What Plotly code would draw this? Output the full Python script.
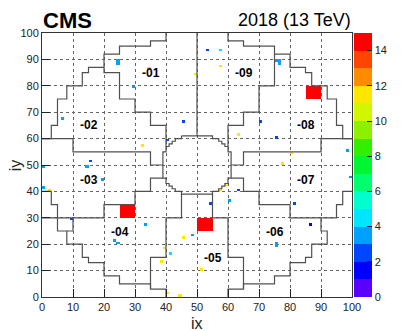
import numpy as np
import plotly.graph_objects as go

# hit cells (ix, iy) and their values
pts_ix = [25, 25, 76, 77, 77, 7, 30, 15, 1, 20, 1, 99, 100, 61, 76, 76, 34, 24, 25, 49,
          58, 42,
          58, 50, 35, 33, 3, 64, 81, 78, 60, 58, 46, 40, 39, 41, 45, 52,
          54, 41, 16, 46, 71, 76, 64, 55, 82, 10, 87]
pts_iy = [90, 89, 90, 90, 89, 68, 80, 50, 50, 45, 42, 56, 46, 37, 21, 20, 28, 22, 21, 24,
          94, 17,
          88, 85, 87, 58, 41, 62, 55, 51, 43, 41, 23, 19, 14, 2, 1, 11,
          94, 60, 52, 67, 67, 61, 41, 36, 36, 30, 28]
pts_val = [3.5] * 20 + [4.5] * 2 + [11.5] * 16 + [2.5] * 10 + [1.5]

# hot 5x5 towers: lower-left cell and value
tower_ix = [86, 26, 51]
tower_iy = [76, 31, 26]
tower_val = [14.5, 14.5, 14.5]

palette = ["#5a00ff", "#0000ff", "#0046ff", "#00a0ff", "#00e6ff",
           "#00ffcc", "#00ff6e", "#00f532", "#30f000", "#8cf000",
           "#d2f500", "#ffe600", "#ff8c00", "#ff4600", "#ff0000"]

# EE outlines (crystal-edge coordinates)
outer_ul = [(0, 60), (3, 60), (3, 65), (5, 65), (5, 75), (8, 75), (8, 80), (13, 80), (13, 85), (15, 85),
            (15, 87), (20, 87), (20, 92), (25, 92), (25, 95), (35, 95), (35, 97), (40, 97), (40, 100)]
outer_ur = [(100, 60), (97, 60), (97, 65), (95, 65), (95, 75), (92, 75), (92, 80), (87, 80), (87, 85), (85, 85),
            (85, 87), (80, 87), (80, 92), (75, 92), (75, 95), (65, 95), (65, 97), (60, 97), (60, 100)]
outer_ll = [(0, 40), (3, 40), (3, 35), (5, 35), (5, 25), (8, 25), (8, 20), (13, 20), (13, 15), (15, 15),
            (15, 13), (20, 13), (20, 8), (25, 8), (25, 5), (35, 5), (35, 3), (40, 3), (40, 0)]
outer_lr = [(100, 40), (97, 40), (97, 35), (95, 35), (95, 30), (90, 30), (90, 25), (92, 25), (92, 20), (87, 20),
            (87, 15), (85, 15), (85, 13), (80, 13), (80, 8), (75, 8), (75, 5), (65, 5), (65, 3), (60, 3), (60, 0)]
hole = [(45, 61), (55, 61), (55, 60), (57, 60), (57, 59), (58, 59), (58, 58), (59, 58), (59, 57), (60, 57),
        (60, 55), (61, 55), (61, 45), (60, 45), (60, 43), (59, 43), (59, 42), (58, 42), (58, 41), (57, 41),
        (57, 40), (55, 40), (55, 39), (45, 39), (45, 40), (43, 40), (43, 41), (42, 41), (42, 42), (41, 42),
        (41, 43), (40, 43), (40, 45), (39, 45), (39, 55), (40, 55), (40, 57), (41, 57), (41, 58), (42, 58),
        (42, 59), (43, 59), (43, 60), (45, 60), (45, 61)]
sectors = [
    [(50, 100), (50, 61)],
    [(20, 87), (20, 85), (25, 85), (25, 75), (30, 75), (30, 70), (35, 70), (35, 65), (40, 65), (40, 57)],
    [(0, 60), (10, 60), (10, 55), (35, 55), (35, 50), (39, 50)],
    [(0, 30), (20, 30), (20, 35), (30, 35), (30, 40), (35, 40), (35, 45), (39, 45)],
    [(10, 30), (10, 25), (8, 25)],
    [(45, 39), (45, 30), (40, 30), (40, 15), (35, 15), (35, 3)],
    [(55, 39), (55, 30), (60, 30), (60, 15), (65, 15), (65, 3)],
    [(61, 45), (65, 45), (65, 40), (70, 40), (70, 35), (80, 35), (80, 30), (90, 30)],
    [(61, 50), (65, 50), (65, 55), (90, 55), (90, 60), (100, 60)],
    [(60, 57), (60, 65), (65, 65), (65, 70), (70, 70), (70, 80), (75, 80), (75, 92)],
]

sector_names = ["-01", "-02", "-03", "-04", "-05", "-06", "-07", "-08", "-09"]
sector_x = [35, 15, 15, 25, 55, 75, 85, 85, 65]
sector_y = [84.7, 65, 44.3, 24.5, 14.8, 24.7, 44.5, 65, 84.7]

FONT = "Liberation Sans"

z = np.full((100, 100), np.nan)
for ix, iy, v in zip(pts_ix, pts_iy, pts_val):
    z[iy - 1, ix - 1] = v
for ix, iy, v in zip(tower_ix, tower_iy, tower_val):
    z[iy - 1:iy + 4, ix - 1:ix + 4] = v

scale = []
for i, c in enumerate(palette):
    scale.append([i / 15, c])
    scale.append([(i + 1) / 15, c])

centers = np.arange(100) + 0.5
fig = go.Figure()
fig.add_trace(go.Heatmap(
    x=centers, y=centers, z=z, zmin=0, zmax=15, colorscale=scale, hoverinfo="skip",
    colorbar=dict(x=1.008, xanchor="left", xpad=0, y=0.5, yanchor="middle", len=1, ypad=0,
                  thickness=18, outlinewidth=0, tickvals=list(range(0, 15, 2)),
                  ticks="inside", ticklen=5, tickcolor="#222",
                  tickfont=dict(family=FONT, size=11, color="#222")),
))

xs, ys = [], []
for poly in [outer_ul, outer_ur, outer_ll, outer_lr, hole] + sectors:
    xs += [p[0] for p in poly] + [None]
    ys += [p[1] for p in poly] + [None]
fig.add_trace(go.Scatter(x=xs, y=ys, mode="lines", line=dict(color="#505050", width=1.2),
                         hoverinfo="skip", showlegend=False))

for name, sx, sy in zip(sector_names, sector_x, sector_y):
    fig.add_annotation(x=sx, y=sy, text=name, showarrow=False,
                       font=dict(family=FONT, size=12, color="black", weight="bold"))

fig.add_annotation(xref="paper", yref="paper", x=0.083, y=1.049, xanchor="center", yanchor="middle",
                   text="CMS", showarrow=False, borderpad=0,
                   font=dict(family=FONT, size=22, color="black", weight="bold"))
fig.add_annotation(xref="paper", yref="paper", x=1.0, y=1.048, xanchor="right", yanchor="middle",
                   text="2018 (13 TeV)", showarrow=False, borderpad=0,
                   font=dict(family=FONT, size=18, color="black"))
fig.add_annotation(xref="paper", yref="paper", x=0.5, y=-0.1, xanchor="center", yanchor="middle",
                   text="ix", showarrow=False, font=dict(family=FONT, size=16, color="#222"))
fig.add_annotation(xref="paper", yref="paper", x=-0.086, y=0.5, xanchor="center", yanchor="middle",
                   text="iy", textangle=-90, showarrow=False, font=dict(family=FONT, size=16, color="#222"))

axis = dict(range=[0, 100], tickvals=list(range(0, 101, 10)), ticks="inside", ticklen=8,
            tickcolor="#222", showgrid=True, gridcolor="#666", griddash="dot", gridwidth=1,
            zeroline=False, showline=True, linecolor="#333", linewidth=1, mirror=True,
            tickfont=dict(family=FONT, size=11, color="#222"))
fig.update_xaxes(**axis)
fig.update_yaxes(**axis)
# page body keeps an 8px margin, so the figure is 8px smaller and shifted
fig.update_layout(width=407, height=323, margin=dict(l=33.5, r=62.5, t=25, b=34),
                  plot_bgcolor="white", paper_bgcolor="white", showlegend=False)

fig.write_html("out.html")
